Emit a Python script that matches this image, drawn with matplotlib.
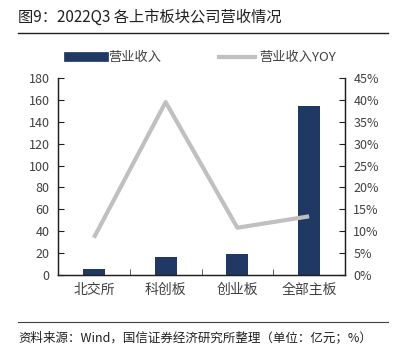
import matplotlib
matplotlib.use("Agg")
import matplotlib.pyplot as plt
from matplotlib.lines import Line2D
import numpy as np

plt.rcParams['font.family'] = ['Noto Sans CJK SC', 'DejaVu Sans']

categories = ['北交所', '科创板', '创业板', '全部主板']
revenue = [5.5, 16.4, 19.2, 154.0]
yoy = [8.5, 39.5, 10.8, 13.4]
left_ticks = [0, 20, 40, 60, 80, 100, 120, 140, 160, 180]
right_ticks = [0, 5, 10, 15, 20, 25, 30, 35, 40, 45]

W, H = 394, 354
fig = plt.figure(figsize=(W / 100, H / 100), dpi=100)

ax = fig.add_axes([58 / W, 1 - 275 / H, (345 - 58) / W, (275 - 78) / H])
x = np.arange(len(categories))
bar_color = '#1f3864'
line_color = '#c0c0c0'
ax.bar(x, revenue, width=0.31, color=bar_color, zorder=2)
ax.set_xlim(-0.5, len(categories) - 0.5)
ax.set_ylim(0, 180)
ax.set_yticks(left_ticks)
ax.set_yticklabels([str(t) for t in left_ticks], fontsize=9, color='#404040')
ax.set_xticks(x)
ax.set_xticklabels(categories, fontsize=10, color='#404040')
ax.tick_params(axis='x', length=0, pad=6)
ax.set_xticks(np.arange(0.5, len(categories) - 0.5, 1), minor=True)
ax.tick_params(axis='x', which='minor', direction='in', length=4, color='#404040')
ax.tick_params(axis='y', direction='in', length=4, color='#202020', pad=6)
ax.spines['top'].set_visible(False)
for s in ['left', 'bottom', 'right']:
    ax.spines[s].set_color('#202020')
    ax.spines[s].set_linewidth(1.0)

ax2 = ax.twinx()
ax2.plot(x, yoy, color=line_color, linewidth=3, solid_capstyle='butt', zorder=3)
ax2.set_ylim(0, 45)
ax2.set_yticks(right_ticks)
ax2.set_yticklabels([f'{t}%' for t in right_ticks], fontsize=9, color='#404040')
ax2.tick_params(axis='y', direction='in', length=4, color='#202020', pad=6)
ax2.spines['top'].set_visible(False)
for s in ['left', 'bottom', 'right']:
    ax2.spines[s].set_color('#202020')

handles = [
    Line2D([0], [0], color=bar_color, linewidth=7),
    Line2D([0], [0], color=line_color, linewidth=3),
]
fig.legend(handles, ['营业收入', '营业收入YOY'], loc='center', bbox_to_anchor=(202 / W, 1 - 58 / H),
           ncol=2, frameon=False, fontsize=9.5, handlelength=2.7, columnspacing=4.4,
           labelcolor='#404040', handletextpad=0.3)

fig.text(18 / W, 1 - 17 / H, '图9：2022Q3 各上市板块公司营收情况', fontsize=11, va='center', ha='left', color='#202020')
fig.add_artist(Line2D([18 / W, 388 / W], [1 - 33 / H, 1 - 33 / H], color='#202020', linewidth=1.0))
fig.add_artist(Line2D([18 / W, 388 / W], [1 - 322 / H, 1 - 322 / H], color='#404040', linewidth=0.8))
fig.text(18 / W, 1 - 338 / H, '资料来源：Wind，国信证券经济研究所整理（单位：亿元；%）', fontsize=9, va='center', ha='left', color='#202020')

fig.savefig('out.png', dpi=100)
